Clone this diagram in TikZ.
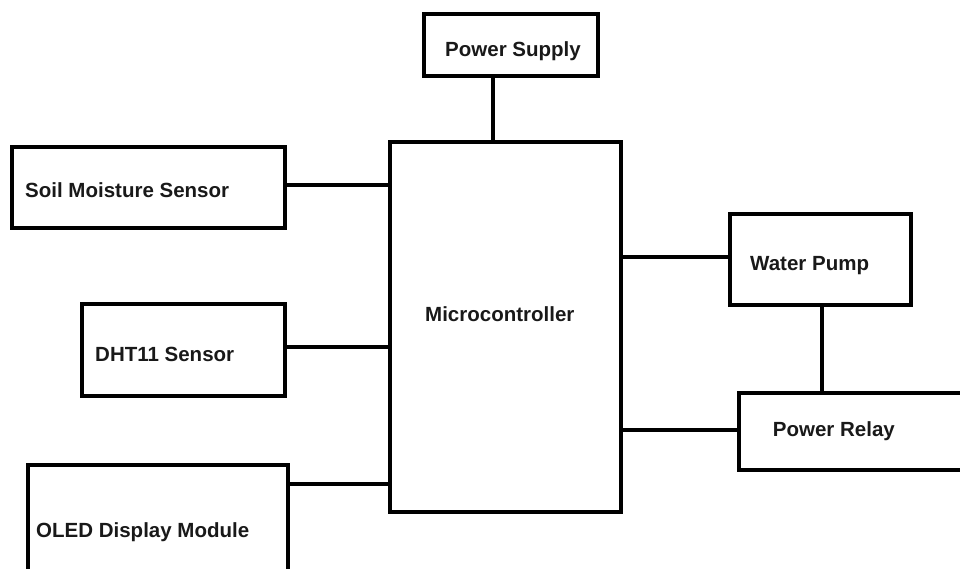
\documentclass[tikz,border=0pt]{standalone}
\usepackage{fontspec}
\setmainfont{Liberation Sans}
\begin{document}
\begin{tikzpicture}[x=1pt,y=-1pt,
  blk/.style={draw=black,line width=4pt,rectangle,inner sep=0pt,fill=white},
  lbl/.style={anchor=base west,inner sep=0pt,text=black!90,font=\fontsize{20.5}{24}\selectfont\bfseries},
  wire/.style={draw=black,line width=4pt}]
\useasboundingbox (0,0) rectangle (960,569);
\clip (0,0) rectangle (960,569);
\fill[white] (0,0) rectangle (960,569);
% blocks
\node[blk,minimum width=174.5pt,minimum height=61.5pt] (ps) at (510.75,45.25) {};
\node[blk,minimum width=230.7pt,minimum height=369.5pt] (mc) at (505.35,326.75) {};
\node[blk,minimum width=273pt,minimum height=81pt] (soil) at (148.5,187.5) {};
\node[blk,minimum width=203pt,minimum height=92pt] (dht) at (183.5,350) {};
\node[blk,minimum width=260pt,minimum height=155pt] (oled) at (158,542.5) {};
\node[blk,minimum width=181.5pt,minimum height=90.5pt] (wp) at (820.25,259.75) {};
\node[blk,minimum width=261.5pt,minimum height=77.5pt] (pr) at (869.25,431.25) {};
% labels
\node[lbl] (tps) at (445,57) {Power Supply};
\node[lbl] (tsoil) at (25,198) {Soil Moisture Sensor};
\node[lbl] (tdht) at (95,361.7) {DHT11 Sensor};
\node[lbl] (toled) at (36,537) {OLED Display Module};
\node[lbl] (tmc) at (425,321.7) {Microcontroller};
\node[lbl] (twp) at (750,270) {Water Pump};
\node[lbl] (tpr) at (772.7,436) {Power Relay};
% connector guides
\coordinate (xps) at (493,0);
\coordinate (ysoil) at (0,185);
\coordinate (ydht) at (0,347);
\coordinate (yoled) at (0,483.5);
\coordinate (ywp) at (0,256.7);
\coordinate (ypr) at (0,430);
\coordinate (xwp) at (821.7,0);
% connectors
\draw[wire] (ps.south -| xps) -- (mc.north -| xps);
\draw[wire] (soil.east |- ysoil) -- (mc.west |- ysoil);
\draw[wire] (dht.east |- ydht) -- (mc.west |- ydht);
\draw[wire] (oled.east |- yoled) -- (mc.west |- yoled);
\draw[wire] (mc.east |- ywp) -- (wp.west |- ywp);
\draw[wire] (mc.east |- ypr) -- (pr.west |- ypr);
\draw[wire] (wp.south -| xwp) -- (pr.north -| xwp);
\end{tikzpicture}
\end{document}
